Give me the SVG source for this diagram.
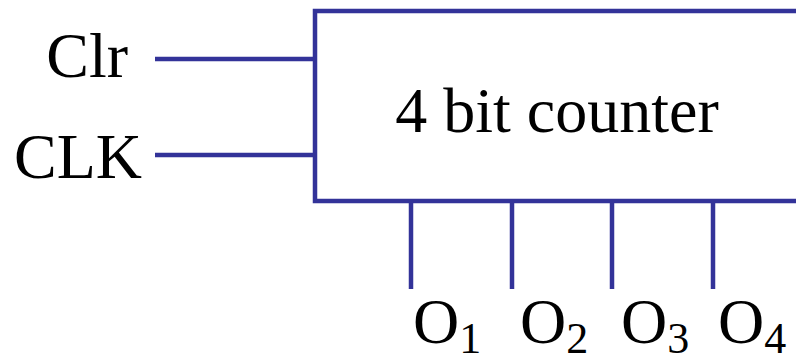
<svg xmlns="http://www.w3.org/2000/svg" width="796" height="358" viewBox="0 0 796 358">
<style>
.w{stroke:#333399;stroke-width:4.5;fill:none}
.t{font-family:"Liberation Serif","Times New Roman",serif;font-size:64px;fill:#000}
.s{font-size:44px}
</style>
<rect width="796" height="358" fill="#fff"/>
<g id="counter">
<rect class="w" x="315" y="11" width="520" height="190"/>
<text class="t" x="557" y="132" text-anchor="middle">4 bit counter</text>
</g>
<g id="clr"><text class="t" x="128" y="77" text-anchor="end">Clr</text></g>
<g id="clk"><text class="t" x="142" y="178" text-anchor="end">CLK</text></g>
<g id="o1"><text class="t" x="413" y="343">O<tspan class="s" dy="10">1</tspan></text></g>
<g id="o2"><text class="t" x="520" y="343">O<tspan class="s" dy="10">2</tspan></text></g>
<g id="o3"><text class="t" x="621" y="343">O<tspan class="s" dy="10">3</tspan></text></g>
<g id="o4"><text class="t" x="718" y="343">O<tspan class="s" dy="10">4</tspan></text></g>
<g id="connectors">
<line class="w" x1="155" y1="59" x2="315" y2="59"/>
<line class="w" x1="155" y1="155" x2="315" y2="155"/>
<line class="w" x1="411" y1="201" x2="411" y2="289"/>
<line class="w" x1="512" y1="201" x2="512" y2="289"/>
<line class="w" x1="612" y1="201" x2="612" y2="289"/>
<line class="w" x1="713" y1="201" x2="713" y2="289"/>
</g>
</svg>
